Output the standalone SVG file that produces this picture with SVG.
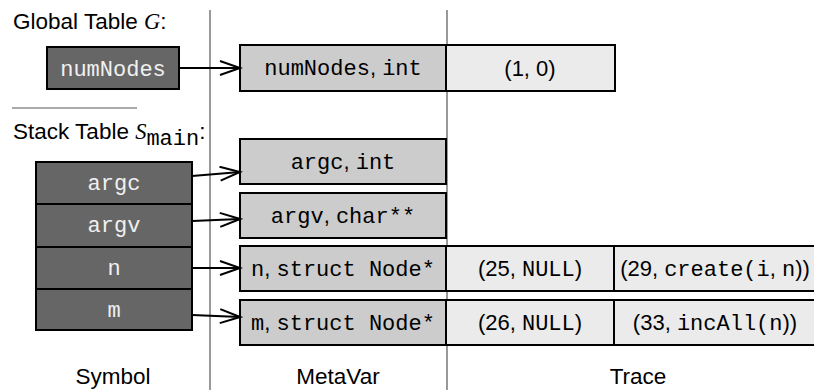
<svg xmlns="http://www.w3.org/2000/svg" width="814" height="390" viewBox="0 0 814 390">
  <style>
    .sans { font-family: "Liberation Sans", Arial, sans-serif; font-size: 22px; fill: #000; }
    .title { font-family: "Liberation Sans", Arial, sans-serif; font-size: 22.5px; fill: #000; }
    .mono { font-family: "Liberation Mono", "Courier New", monospace; font-size: 22px; }
    .ital { font-family: "Liberation Serif", "Times New Roman", serif; font-style: italic; }
    .sym { fill: #666; stroke: #000; stroke-width: 2; }
    .symtxt { font-family: "Liberation Mono", "Courier New", monospace; font-size: 22px; fill: #f0f0f0; text-anchor: middle; }
    .meta { fill: #ccc; stroke: #000; stroke-width: 2; }
    .trace { fill: #ebebeb; stroke: #000; stroke-width: 2; }
    .mid { text-anchor: middle; }
    .col { stroke: #999; stroke-width: 2; }
    .edge { stroke: #000; stroke-width: 2; fill: none; marker-end: url(#chev); }
  </style>
  <defs>
    <marker id="chev" markerUnits="userSpaceOnUse" markerWidth="24" markerHeight="18" refX="21" refY="8" orient="auto">
      <path d="M1,1 L21,8 L1,15" fill="none" stroke="#000" stroke-width="2"/>
    </marker>
  </defs>

  <!-- column dividers -->
  <g id="columns">
    <line class="col" x1="210" y1="10" x2="210" y2="390"/>
    <line class="col" x1="447" y1="10" x2="447" y2="390"/>
    <line x1="12" y1="108" x2="137" y2="108" stroke="#aaa" stroke-width="2"/>
  </g>

  <!-- table titles -->
  <g id="titles">
    <text class="title" x="13" y="29">Global Table <tspan class="ital">G</tspan>:</text>
    <text class="title" x="13" y="139">Stack Table <tspan class="ital">S</tspan><tspan class="mono" font-size="15" dy="6">main</tspan><tspan dy="-6">:</tspan></text>
  </g>

  <!-- global table symbol -->
  <g id="sym-numNodes">
    <rect class="sym" x="47" y="47" width="132" height="42"/>
    <text class="symtxt" x="113" y="76">numNodes</text>
  </g>

  <!-- stack table symbols -->
  <g id="sym-argc">
    <rect class="sym" x="36" y="162" width="156" height="42"/>
    <text class="symtxt" x="114" y="190">argc</text>
  </g>
  <g id="sym-argv">
    <rect class="sym" x="36" y="204" width="156" height="43"/>
    <text class="symtxt" x="114" y="232">argv</text>
  </g>
  <g id="sym-n">
    <rect class="sym" x="36" y="247" width="156" height="42"/>
    <text class="symtxt" x="114" y="275">n</text>
  </g>
  <g id="sym-m">
    <rect class="sym" x="36" y="289" width="156" height="41"/>
    <text class="symtxt" x="114" y="317">m</text>
  </g>

  <!-- metavars -->
  <g id="meta-numNodes">
    <rect class="meta" x="240" y="45" width="206" height="46"/>
    <text class="sans mid" x="343" y="75"><tspan class="mono">numNodes</tspan>, <tspan class="mono">int</tspan></text>
  </g>
  <g id="meta-argc">
    <rect class="meta" x="240" y="139" width="206" height="45"/>
    <text class="sans mid" x="343" y="169"><tspan class="mono">argc</tspan>, <tspan class="mono">int</tspan></text>
  </g>
  <g id="meta-argv">
    <rect class="meta" x="240" y="193" width="206" height="45"/>
    <text class="sans mid" x="343" y="223"><tspan class="mono">argv</tspan>, <tspan class="mono">char**</tspan></text>
  </g>
  <g id="meta-n">
    <rect class="meta" x="240" y="246" width="206" height="45"/>
    <text class="sans mid" x="343" y="276"><tspan class="mono">n</tspan>, <tspan class="mono">struct Node*</tspan></text>
  </g>
  <g id="meta-m">
    <rect class="meta" x="240" y="300" width="206" height="45"/>
    <text class="sans mid" x="343" y="330"><tspan class="mono">m</tspan>, <tspan class="mono">struct Node*</tspan></text>
  </g>

  <!-- traces -->
  <g id="trace-numNodes">
    <rect class="trace" x="446" y="45" width="169" height="46"/>
    <text class="sans mid" x="530" y="76">(1, 0)</text>
  </g>
  <g id="trace-n">
    <rect class="trace" x="446" y="246" width="168" height="45"/>
    <rect class="trace" x="614" y="246" width="206" height="45"/>
    <text class="sans mid" x="530" y="276">(25, <tspan class="mono">NULL</tspan>)</text>
    <text class="sans mid" x="715" y="276">(29, <tspan class="mono">create(i</tspan>, <tspan class="mono">n</tspan>))</text>
  </g>
  <g id="trace-m">
    <rect class="trace" x="446" y="300" width="168" height="45"/>
    <rect class="trace" x="614" y="300" width="206" height="45"/>
    <text class="sans mid" x="530" y="330">(26, <tspan class="mono">NULL</tspan>)</text>
    <text class="sans mid" x="715" y="330">(33, <tspan class="mono">incAll(n</tspan>))</text>
  </g>

  <!-- connectors -->
  <g id="connectors">
    <path class="edge" d="M179,68 L240,68"/>
    <path class="edge" d="M192,176 L240,172"/>
    <path class="edge" d="M192,221 L240,219"/>
    <path class="edge" d="M192,268 L240,268"/>
    <path class="edge" d="M192,315 L240,317"/>
  </g>

  <!-- column headings -->
  <g id="headings">
    <text class="title mid" x="113" y="384">Symbol</text>
    <text class="title mid" x="338" y="384">MetaVar</text>
    <text class="title mid" x="638" y="384">Trace</text>
  </g>
</svg>
